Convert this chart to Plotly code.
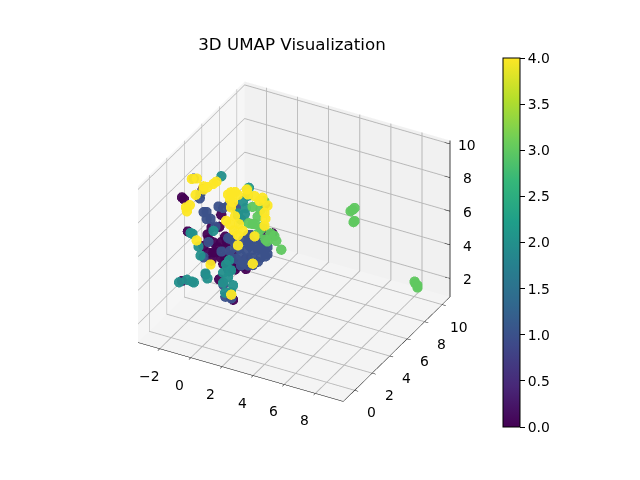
import plotly.graph_objects as go

# Values, one group per colour level
purple_x = [-2.32, -2.19, -0.99, -2.62, -2.32, -0.6, -1.61, -1.1, -0.98, -0.47, -0.72, -0.98, -0.22, -1.29, -0.22, 0.29, 0.48, 0.16, 0.61, 0.92, -0.03, 1.11, -0.34, -0.47, 2.32, 2.82, 2.32, 0.29, -0.6, -1.29, -0.79, -0.47, -0.09, -1.1, 0.8, 0.42, 0.16, -1.36, -0.22, 1.11]
purple_y = [1.8, 1.8, 1.8, 3, 1.8, 3, 3, 3, 3, 3, 3, 3, 3, 3, 3, 3, 3, 3, 3, 3, 3, 3, 3, 3, 3, 3, 3, 3, 3, 3, 3, 3, 3, 3, 3, 3, 3, 3, 3, 3]
purple_z = [8.25, 8.17, 9.08, 5.53, 3.28, 3.22, 4.94, 6.18, 5.32, 5.47, 5.1, 4.72, 5.14, 4.62, 4.66, 4.93, 4.7, 4.35, 4.31, 4.41, 3.99, 4.29, 4.2, 7.09, 6.76, 6.86, 8.44, 2.24, 6.34, 5.4, 4.78, 4.52, 5.59, 4.2, 4.55, 4.07, 4.77, 5.68, 5.86, 4.89]

blue_x = [-1.56, -1.12, -1.18, -1.32, -1.13, -0.88, -0.06, 0.26, 0.76, 0.89, 0.26, 0.38, -1.01, -1.32, 1.21, 1.52, 1.84, 2.16, 2.47, 1.4, 1.84, 2.16, 2.6, 1.52, 1.84, 2.35, 2.79, 1.21, 1.84, 0.76, 1.08, 1.52, -1.2, -0.06, 0.07, 0.45, 1.65, 2.03, 2.35, 2.66, 2.16, 1.52, 1.08, 2.79, 2.35, 1.71, 0.95, -0.56, -1.13, -0.37, 0.38, 0.7, -0.18, 0.32]
blue_y = [1.8, 1.8, 1.8, 2.5, 2.5, 2.5, 2.5, 2.5, 2.5, 2.5, 2.5, 2.5, 2.5, 2.5, 2.5, 2.5, 2.5, 2.5, 2.5, 2.5, 2.5, 2.5, 2.5, 2.5, 2.5, 2.5, 2.5, 2.5, 2.5, 2.5, 2.5, 2.5, 2.5, 2.5, 2.5, 2.5, 2.5, 2.5, 2.5, 2.5, 2.5, 2.5, 2.5, 2.5, 2.5, 2.5, 2.5, 2.5, 2.5, 2.5, 2.5, 2.5, 2.5, 2.5]
blue_z = [9.57, 8.81, 8.49, 7.28, 7.34, 7.0, 7.86, 8.07, 8.11, 7.67, 6.16, 5.42, 5.58, 4.59, 6.28, 6.67, 6.47, 6.57, 6.37, 5.73, 5.87, 5.97, 6.11, 5.29, 5.39, 5.55, 5.87, 4.96, 4.97, 5.06, 5.34, 6.19, 3.61, 3.3, 2.62, 2.62, 6.05, 6.23, 6.03, 5.71, 5.25, 4.87, 4.74, 6.29, 6.63, 6.73, 5.71, 6.62, 6.92, 7.87, 6.14, 5.93, 5.24, 4.2]

teal_x = [0.21, -2.72, -2.59, -2.62, -2.12, -1.8, -1.67, -1.77, -1.64, 0.83, 0.76, 0.32, -0.44, -0.63, -0.12, -0.31, 0.01, -0.12, -0.5, -2.21, -2.08, 1.02, -1.26, 0.64, 0.51, 0.95, -0.63, -0.25]
teal_y = [1.8, 3.5, 3.5, 2, 2, 2, 2, 3.5, 3.5, 3.5, 3.5, 3.5, 3.5, 3.5, 3.5, 3.5, 3.5, 3.5, 3.5, 3.5, 3.5, 3.5, 3.5, 3.5, 3.5, 3.5, 3.5, 3.5]
teal_z = [10.18, 5.16, 5.14, 3.02, 3.3, 3.28, 3.26, 3.0, 2.74, 7.58, 7.2, 7.13, 3.89, 3.35, 3.63, 3.16, 2.77, 2.31, 2.2, 4.48, 3.98, 8.84, 5.67, 7.94, 6.82, 8.34, 2.76, 4.19]

green_x = [0.7, 1.21, 1.46, 0.45, 0.83, 1.21, 2.09, 2.22, 2.54, 1.52, 1.65, 1.33, 0.38, 4.47, 4.59, 4.72, 4.72, 4.66, 8.47, 8.53, 8.66, 8.66, 1.02, 0.7, 1.84, 1.02]
green_y = [4.5, 4.5, 4.5, 4.5, 4.5, 4.5, 4.5, 4.5, 4.5, 4.5, 4.5, 4.5, 4.5, 9, 9, 9, 9, 9, 9.2, 9.2, 9.2, 9.2, 4.5, 4.5, 4.5, 4.5]
green_z = [7.11, 7.09, 7.65, 6.07, 6.13, 5.89, 5.75, 5.49, 5.05, 5.39, 5.31, 6.11, 8.08, 5.56, 5.67, 5.82, 5.04, 4.96, 2.33, 2.23, 2.15, 2.03, 6.61, 6.09, 5.84, 5.59]

yellow_x = [-1.8, -1.48, -1.04, -1.55, -1.04, -2.18, -2.12, -1.93, -0.22, -0.41, -0.79, -0.41, -0.15, -0.47, 0.04, -0.41, -0.15, -0.47, -0.22, 0.1, 0.35, 0.61, 1.11, 1.43, 1.75, 1.81, 1.75, 1.62, -2.62, -0.6, 0.73, 0.99, 1.11, 0.04, -0.6, -0.28, -0.72, 0.04, 0.67, 1.94]
yellow_y = [2, 2, 2, 2, 2, 2, 2, 2, 2, 2, 2, 4, 4, 4, 4, 4, 4, 4, 4, 4, 4, 4, 4, 4, 4, 4, 4, 4, 4, 2, 2, 4, 4, 4, 4, 4, 4, 4, 4, 4]
yellow_z = [9.38, 9.49, 9.14, 8.5, 8.96, 7.59, 7.37, 7.79, 9.64, 9.46, 9.16, 7.94, 8.02, 7.5, 7.9, 7.04, 6.58, 6.0, 5.72, 6.18, 5.84, 8.37, 8.11, 7.91, 7.29, 6.95, 6.52, 8.15, 4.49, 4.61, 3.17, 4.06, 5.72, 4.9, 7.76, 7.38, 6.16, 5.5, 8.1, 7.77]

level_values = [0, 1, 2, 3, 4]
x_ticks = [-2, 0, 2, 4, 6, 8]
y_ticks = [0, 2, 4, 6, 8, 10]
z_ticks = [2, 4, 6, 8, 10]
colorbar_ticks = [0, 0.5, 1, 1.5, 2, 2.5, 3, 3.5, 4]

x_range = [-3.4, 9.8]
y_range = [-1.3, 10.9]
z_range = [0.9, 10.2]

groups = [
    (purple_x, purple_y, purple_z),
    (blue_x, blue_y, blue_z),
    (teal_x, teal_y, teal_z),
    (green_x, green_y, green_z),
    (yellow_x, yellow_y, yellow_z),
]

FONT = "DejaVu Sans"
PAGE_MARGIN = 8  # the page body pushes the figure 8px right and down


def axis_style(tick_values, axis_range, pane_color):
    return dict(
        range=axis_range,
        tickmode="array",
        tickvals=tick_values,
        showticklabels=False,
        title=dict(text=""),
        showbackground=True,
        backgroundcolor=pane_color,
        gridcolor="#b8b8b8",
        gridwidth=2,
        zeroline=False,
        showline=True,
        linecolor="black",
        linewidth=1,
        ticks="outside",
        ticklen=4,
        tickcolor="black",
        showspikes=False,
    )


def tick_label(x, y, z, value, xshift, yshift):
    # real text tied to the 3D scale, plotly's own tick labels sit too close to the axis
    text = str(value).replace("-", "\u2212")
    return dict(
        x=x,
        y=y,
        z=z,
        text=text,
        showarrow=False,
        xshift=xshift,
        yshift=yshift,
        font=dict(family=FONT, size=13.9, color="black"),
    )


all_x, all_y, all_z, all_levels = [], [], [], []
for level, (xs, ys, zs) in zip(level_values, groups):
    all_x += xs
    all_y += ys
    all_z += zs
    all_levels += [level] * len(xs)

fig = go.Figure(go.Scatter3d(
    x=all_x,
    y=all_y,
    z=all_z,
    mode="markers",
    showlegend=False,
    marker=dict(
        size=6,
        color=all_levels,
        colorscale="Viridis",
        cmin=0,
        cmax=4,
        opacity=0.95,
        line=dict(width=0),
        colorbar=dict(
            x=(503 - PAGE_MARGIN) / 640,
            xanchor="left",
            xpad=0,
            ypad=0,
            y=1 - (242.5 - PAGE_MARGIN) / 480,
            yanchor="middle",
            lenmode="pixels",
            len=369,
            thicknessmode="pixels",
            thickness=17,
            outlinecolor="black",
            outlinewidth=1,
            ticks="outside",
            ticklen=5,
            tickcolor="black",
            tickmode="array",
            tickvals=colorbar_ticks,
            ticktext=[f"{v:.1f}" for v in colorbar_ticks],
            tickfont=dict(family=FONT, size=13.9, color="black"),
        ),
    ),
))

# The z axis sits on the right edge in this view, plotly would put it on the left
z_line_x, z_line_y, z_line_z = [x_range[1], x_range[1]], [y_range[1], y_range[1]], list(z_range)
for tick in z_ticks:
    z_line_x += [None, x_range[1] - 0.35, x_range[1]]
    z_line_y += [None, y_range[1], y_range[1]]
    z_line_z += [None, tick, tick]

fig.add_trace(go.Scatter3d(
    x=z_line_x,
    y=z_line_y,
    z=z_line_z,
    mode="lines",
    line=dict(color="black", width=1.5),
    showlegend=False,
    hoverinfo="skip",
))

labels = []
labels += [tick_label(tick, y_range[0], z_range[0], tick, -11, -27) for tick in x_ticks]
labels += [tick_label(x_range[1], tick, z_range[0], tick, 17, -22) for tick in y_ticks]
labels += [tick_label(x_range[1], y_range[1], tick, tick, 17, -1) for tick in z_ticks]

z_axis = axis_style(z_ticks, z_range, "#f4f4f4")
z_axis.update(showline=False, ticks="")

fig.update_layout(
    width=640,
    height=480,
    margin=dict(l=0, r=0, t=0, b=0),
    paper_bgcolor="white",
    font=dict(family=FONT, color="black"),
    title=dict(
        text="3D UMAP Visualization",
        x=(292 - PAGE_MARGIN) / 640,
        xanchor="center",
        y=1 - (44 - PAGE_MARGIN) / 480,
        yanchor="middle",
        font=dict(family=FONT, size=16.7, color="black"),
    ),
    scene=dict(
        domain=dict(x=[0, 572 / 640], y=[13 / 480, 1]),
        aspectmode="manual",
        aspectratio=dict(x=1, y=0.96, z=0.79),
        camera=dict(
            projection=dict(type="orthographic"),
            eye=dict(x=0.578, y=-1.068, z=0.76),
            up=dict(x=0, y=0, z=1),
            center=dict(x=0, y=0, z=0),
        ),
        xaxis=axis_style(x_ticks, x_range, "#f6f6f6"),
        yaxis=axis_style(y_ticks, y_range, "#f1f1f1"),
        zaxis=z_axis,
        annotations=labels,
    ),
)

fig.write_html("out.html")
